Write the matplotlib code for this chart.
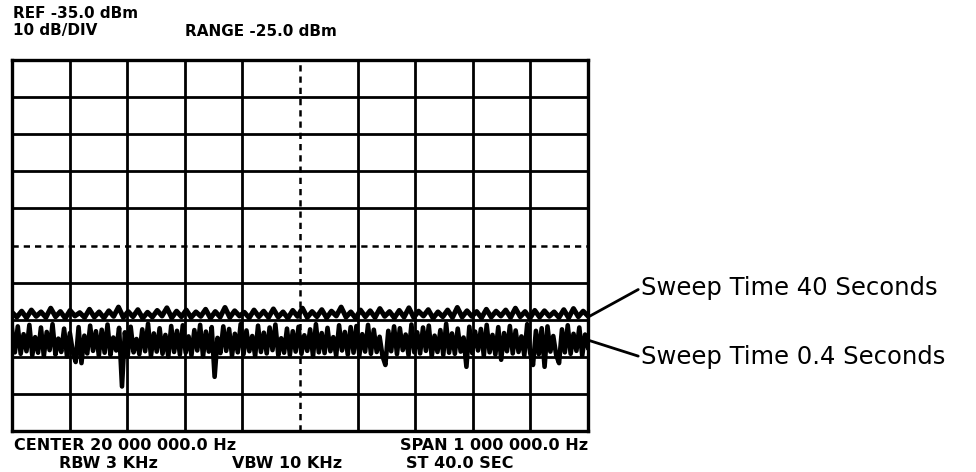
import matplotlib
matplotlib.use("Agg")
import matplotlib.pyplot as plt
import numpy as np

# spectrum analyser settings
ref_level = -35.0      # dBm, top graticule line
db_per_div = 10.0
center_mhz = 20.0
span_mhz = 1.0

# trace, dBm, evenly spaced across the span
trace_fast = [  # sweep time 0.4 s
    -107.5, -113.8, -106.8, -114.2, -108.9, -113.5, -106.4, -114.6, -109.7, -113.9,
    -107.1, -114.8, -108.3, -113.2, -106.2, -114.4, -110.1, -113.7, -107.4, -114.9,
    -108.6, -113.6, -116.4, -107.0, -116.7, -109.3, -114.1, -106.6, -113.4, -108.1,
    -114.7, -107.7, -113.9, -106.3, -114.5, -109.8, -113.3, -107.2, -123.0, -108.4,
    -114.6, -106.9, -113.8, -110.2, -114.3, -107.6, -113.5, -106.1, -114.8, -108.7,
    -113.6, -107.3, -114.2, -109.1, -115.0, -106.7, -113.7, -108.0, -114.4, -106.5,
    -113.9, -109.5, -114.6, -107.8, -113.3, -106.4, -114.9, -108.2, -113.6, -107.0,
    -120.4, -109.9, -114.0, -106.8, -113.4, -107.5, -114.7, -108.8, -113.8, -106.2,
    -114.3, -107.9, -113.5, -109.4, -114.8, -106.6, -113.7, -108.5, -114.1, -107.1,
    -113.2, -106.3, -114.6, -110.0, -113.9, -107.4, -114.5, -108.1, -113.6, -106.9,
    -114.2, -109.2, -113.4, -107.6, -114.9, -106.2, -113.8, -108.6, -114.0, -107.2,
    -113.5, -109.7, -114.7, -106.5, -113.3, -108.3, -114.4, -107.0, -113.9, -106.7,
    -114.6, -108.9, -113.6, -106.4, -114.2, -107.7, -113.7, -109.6, -114.8, -117.2,
    -108.0, -113.5, -106.8, -114.3, -107.3, -113.2, -109.0, -114.6, -106.3, -113.8,
    -108.4, -114.1, -107.1, -113.4, -106.6, -114.9, -109.3, -113.7, -107.8, -114.5,
    -106.1, -113.9, -108.7, -114.2, -107.4, -113.6, -109.8, -117.7, -106.9, -114.0,
    -108.2, -113.3, -107.5, -114.7, -106.4, -113.8, -109.1, -114.4, -107.0, -115.8,
    -108.6, -113.5, -106.7, -114.1, -107.9, -113.7, -109.5, -114.6, -106.2, -113.9,
    -117.2, -108.0, -114.3, -107.3, -117.7, -106.8, -113.6, -109.4, -114.5, -116.7,
    -107.6, -113.8, -106.5, -114.2, -108.8, -113.4, -107.1, -114.7, -109.0, -112.5,
]
trace_slow = [  # sweep time 40 s
    -103.0, -104.3, -102.7, -104.5, -102.4, -104.1, -102.9, -104.4, -101.9, -104.2,
    -102.8, -104.6, -102.5, -104.0, -103.1, -104.4, -102.2, -104.3, -102.9, -104.5,
    -102.6, -104.1, -101.6, -104.4, -102.8, -104.2, -102.3, -104.6, -103.0, -104.3,
    -102.5, -104.0, -101.8, -104.5, -102.7, -104.2, -102.4, -104.4, -102.9, -104.1,
    -102.2, -104.6, -102.8, -104.3, -101.7, -104.4, -102.6, -104.0, -103.0, -104.5,
    -102.4, -104.2, -102.7, -104.4, -102.1, -104.3, -102.9, -104.6, -102.5, -104.1,
    -101.9, -104.4, -102.8, -104.2, -102.3, -104.5, -102.7, -104.0, -101.6, -104.3,
    -102.9, -104.6, -102.4, -104.2, -102.6, -104.4, -102.0, -104.1, -102.8, -104.5,
    -102.5, -104.3, -101.8, -104.4, -102.7, -104.0, -102.3, -104.6, -102.9, -104.2,
    -102.4, -104.4, -101.7, -104.3, -102.6, -104.1, -102.8, -104.5, -102.2, -104.3,
    -102.7, -104.0, -102.4, -104.4, -101.9, -104.2, -102.8, -104.6, -102.5, -104.3,
    -102.6, -104.1, -102.9, -104.4, -102.3, -104.5, -102.0, -104.2, -102.7, -104.0,
]
labels = ["Sweep Time 40 Seconds", "Sweep Time 0.4 Seconds"]
label_at = [-104.3, -110.5]   # where the leader lines touch the traces (dBm)

W, H = 976, 472
fig = plt.figure(figsize=(W / 100, H / 100), dpi=100)
fig.patch.set_facecolor("white")


def fpx(x, y):
    # pixel position (from top-left) -> figure fraction
    return x / W, 1 - y / H


x0, y0 = fpx(12, 431)
x1, y1 = fpx(588, 60)
ax = fig.add_axes([x0, y0, x1 - x0, y1 - y0])

f_lo, f_hi = center_mhz - span_mhz / 2, center_mhz + span_mhz / 2
bottom = ref_level - 10 * db_per_div
ax.set_xlim(f_lo, f_hi)
ax.set_ylim(bottom, ref_level)
ax.set_xticks([]); ax.set_yticks([])
for s in ax.spines.values():
    s.set_linewidth(2.4)

# graticule: 10 x 10, centre lines dashed
for k in range(1, 10):
    fx = f_lo + k * span_mhz / 10
    fy = bottom + k * db_per_div
    ls = (0, (2.5, 2)) if k == 5 else "-"
    lw = 1.8 if k == 5 else 2.0
    ax.axvline(fx, color="black", lw=lw, ls=ls, zorder=1)
    ax.axhline(fy, color="black", lw=lw, ls=ls, zorder=1)

fast_f = np.linspace(f_lo, f_hi, len(trace_fast))
slow_f = np.linspace(f_lo, f_hi, len(trace_slow))
ax.plot(fast_f, trace_fast, color="black", lw=3.3, zorder=3)
ax.plot(slow_f, trace_slow, color="black", lw=3.6, zorder=3)

# leaders to the labels on the right
for txt, yv, ty in zip(labels, label_at, [288, 357]):
    ax.annotate(txt, xy=(f_hi, yv), xycoords="data",
                xytext=(641, H - ty), textcoords="figure pixels",
                ha="left", va="center", fontsize=17.5, family="DejaVu Sans",
                arrowprops=dict(arrowstyle="-", lw=2, color="black",
                                shrinkA=0, shrinkB=0, relpos=(0, 0.5)),
                annotation_clip=False)

# screen annotations
hdr = dict(fontsize=11, fontweight="bold", family="DejaVu Sans", va="center")
low = dict(hdr, fontsize=11.5)
fig.text(*fpx(13, 14), "REF -35.0 dBm", **hdr)
fig.text(*fpx(13, 31), "10 dB/DIV", **hdr)
fig.text(*fpx(185, 31), "RANGE -25.0 dBm", **hdr)
fig.text(*fpx(14, 445), "CENTER 20 000 000.0 Hz", **low)
fig.text(*fpx(588, 445), "SPAN 1 000 000.0 Hz", ha="right", **low)
fig.text(*fpx(59, 463), "RBW 3 KHz", **low)
fig.text(*fpx(232, 463), "VBW 10 KHz", **low)
fig.text(*fpx(406, 463), "ST 40.0 SEC", **low)

fig.savefig("out.png", dpi=100)
